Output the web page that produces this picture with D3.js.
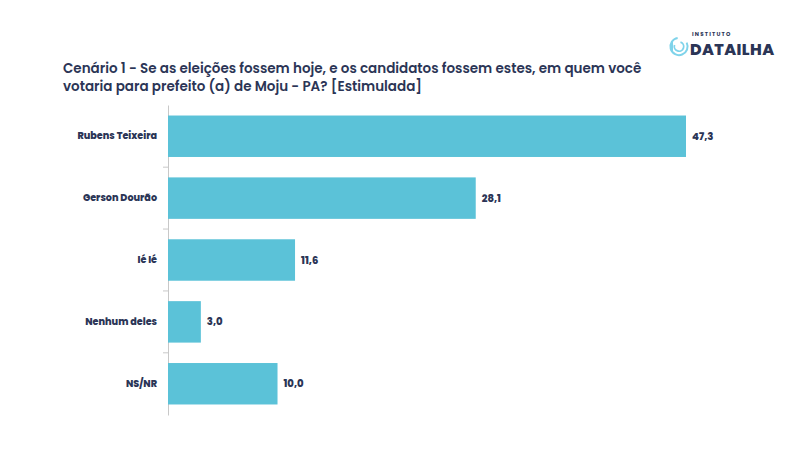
<!DOCTYPE html>
<html><head><meta charset="utf-8">
<script src="https://cdn.jsdelivr.net/npm/d3@7"></script>
<style>body{margin:0;background:#fff}svg{display:block}</style>
</head><body><svg id="c" width="800" height="451"></svg>
<script>
const categories = ["Rubens Teixeira","Gerson Dourão","Ié Ié","Nenhum deles","NS/NR"];
const values = [47.3,28.1,11.6,3.0,10.0];
const titleLines = ["Cenário 1 - Se as eleições fossem hoje, e os candidatos fossem estes, em quem você","votaria para prefeito (a) de Moju - PA? [Estimulada]"];

const svg = d3.select("#c");
const navy = "#2b3556";
const font = "Poppins, 'Noto Sans', 'Open Sans', sans-serif";

// title
svg.append("g").selectAll("text").data(titleLines).join("text")
  .attr("x",63).attr("y",(d,i)=>73+i*17.5).attr("font-family",font).attr("font-weight",600)
  .attr("font-size",13.5).attr("fill",navy).text(d=>d);

// logo
const lg = svg.append("g");
const arc = d3.arc();
lg.append("path").attr("transform","translate(679,46.5)")
  .attr("d",arc({innerRadius:7.6,outerRadius:9.6,startAngle:0.35*Math.PI,endAngle:1.95*Math.PI})).attr("fill","#7fd3ea");
lg.append("path").attr("transform","translate(679,46.5)")
  .attr("d",arc({innerRadius:3.8,outerRadius:5.6,startAngle:0.1*Math.PI,endAngle:1.6*Math.PI})).attr("fill","#7fd3ea");
lg.append("rect").attr("x",671).attr("y",42).attr("width",2).attr("height",10).attr("fill","#7fd3ea");
lg.append("text").attr("x",692).attr("y",36).attr("font-family",font).attr("font-size",5.5).attr("font-weight",700)
  .attr("letter-spacing",1.2).attr("fill",navy).text("INSTITUTO");
lg.append("text").attr("x",690).attr("y",54.5).attr("font-family",font).attr("font-size",15.8).attr("font-weight",800)
  .attr("letter-spacing",0.4).attr("fill",navy).text("DATAILHA");

const x0 = 168;
const x = d3.scaleLinear().domain([0,47.3]).range([x0,686]);
const y = d3.scaleBand().domain(categories).range([105,415]).paddingInner(0.33).paddingOuter(0.17);

const ax = svg.append("g").attr("transform",`translate(${x0},0)`)
  .call(d3.axisLeft(y).tickSize(0).tickPadding(11));
ax.select(".domain").attr("stroke","#c8c8c8").attr("stroke-width",1);
ax.selectAll("text").attr("font-family",font).attr("font-weight",800).attr("font-size",9.6).attr("fill",navy);

// boundary ticks between bands
const bounds = categories.slice(1).map(c => y(c) - y.step()*y.paddingInner()/2);
svg.append("g").selectAll("line").data(bounds).join("line")
  .attr("x1",x0-5).attr("x2",x0).attr("y1",d=>d).attr("y2",d=>d).attr("stroke","#c8c8c8");

svg.append("g").selectAll("rect").data(categories).join("rect")
  .attr("x",x0).attr("y",d=>y(d)).attr("height",y.bandwidth())
  .attr("width",(d,i)=>x(values[i])-x0).attr("fill","#5bc2d8");

svg.append("g").selectAll("text").data(categories).join("text")
  .attr("x",(d,i)=>x(values[i])+6).attr("y",d=>y(d)+y.bandwidth()/2).attr("dy","0.35em")
  .attr("font-family",font).attr("font-weight",800).attr("font-size",10).attr("fill",navy)
  .text((d,i)=>values[i].toFixed(1).replace(".",","));
</script></body></html>
